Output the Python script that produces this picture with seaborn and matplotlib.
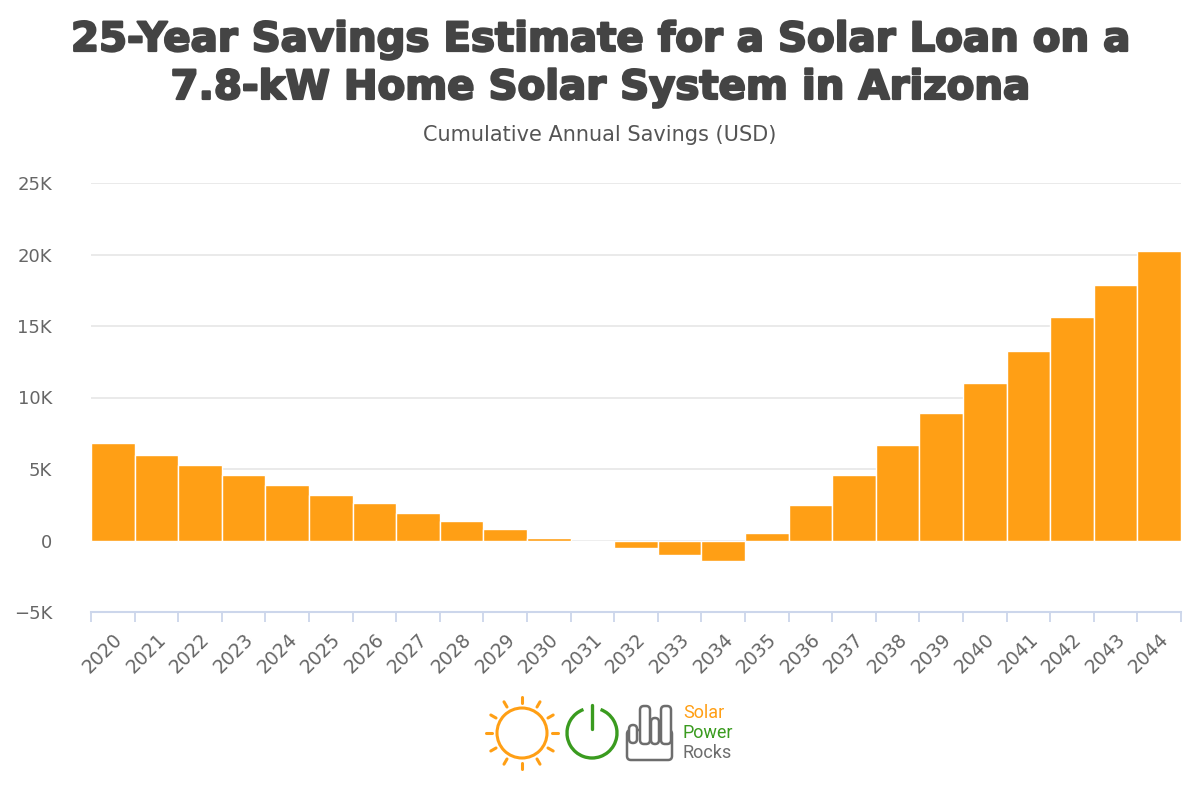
import matplotlib
matplotlib.use("Agg")
import matplotlib.pyplot as plt
import matplotlib.patheffects as pe
import seaborn as sns
import pandas as pd
import numpy as np
from matplotlib.patches import Circle, Arc, FancyBboxPatch
from matplotlib.lines import Line2D

years = [str(y) for y in range(2020, 2045)]
savings = [6790, 5950, 5250, 4550, 3850, 3150, 2590, 1890, 1330, 770, 180, -100,
           -540, -980, -1400, 510, 2470, 4570, 6650, 8890, 10990, 13230, 15630, 17850, 20250]
yticks = [-5000, 0, 5000, 10000, 15000, 20000, 25000]
ytick_labels = ["−5K", "0", "5K", "10K", "15K", "20K", "25K"]

title_lines = ["25-Year Savings Estimate for a Solar Loan on a",
               "7.8-kW Home Solar System in Arizona"]
subtitle = "Cumulative Annual Savings (USD)"
logo_words = ["Solar", "Power", "Rocks"]

sns.set_theme(style="white")
plt.rcParams['font.family'] = ['DejaVu Sans']

df = pd.DataFrame({"year": years, "savings": savings})

fig = plt.figure(figsize=(12, 8), dpi=100)
ax = fig.add_axes([91/1200, 1-612/800, (1181-91)/1200, (612-183)/800])

sns.barplot(data=df, x="year", y="savings", color="#FF9F15", width=1.0,
            edgecolor="white", linewidth=1, saturation=1, ax=ax, zorder=3)

ax.set_ylim(-5000, 25000)
ax.set_xlim(-0.5, len(years) - 0.5)
ax.set_yticks(yticks)
ax.set_yticklabels(ytick_labels, color="#666666", fontsize=13)
for y in yticks[1:]:
    ax.axhline(y, color="#e6e6e6", lw=1.2, zorder=1)
ax.set_xlabel("")
ax.set_ylabel("")
for s in ["top", "right", "left"]:
    ax.spines[s].set_visible(False)
ax.spines["bottom"].set_color("#ccd6eb")
ax.spines["bottom"].set_linewidth(1.5)
ax.tick_params(axis="y", length=0, pad=28)
ax.set_xticks(range(len(years)))
ax.set_xticklabels(years, rotation=45, ha="right", rotation_mode="anchor",
                   color="#666666", fontsize=13.5)
ax.tick_params(axis="x", which="major", length=0, pad=13, bottom=True)
ax.set_xticks(np.arange(-0.5, len(years), 1.0), minor=True)
ax.tick_params(axis="x", which="minor", length=7.5, width=1.3, color="#ccd6eb",
               bottom=True)

# Title and subtitle
stroke = [pe.withStroke(linewidth=1.6, foreground="#444444")]
fig.text(0.5, 1-40/800, title_lines[0], ha="center", va="center", fontsize=29,
         fontweight="bold", color="#444444", path_effects=stroke)
fig.text(0.5, 1-88/800, title_lines[1], ha="center", va="center", fontsize=29,
         fontweight="bold", color="#444444", path_effects=stroke)
fig.text(0.5, 1-135/800, subtitle, ha="center", va="center", fontsize=15,
         color="#555555")

# Logo (decorative)
lax = fig.add_axes([0, 0, 1, 1], zorder=5)
lax.set_xlim(0, 1200)
lax.set_ylim(800, 0)
lax.axis("off")
orange, green, gray = "#FF9F15", "#3a9b1f", "#6d6d6d"
cx, cy = 522, 733
lax.add_patch(Circle((cx, cy), 25, fill=False, ec=orange, lw=2.2))
for a in np.arange(0, 360, 30):
    r = np.deg2rad(a)
    lax.add_line(Line2D([cx + 30*np.cos(r), cx + 36*np.cos(r)],
                        [cy + 30*np.sin(r), cy + 36*np.sin(r)], color=orange, lw=2.2))
px, py = 592, 733
lax.add_patch(Arc((px, py), 50, 50, theta1=-70, theta2=250, ec=green, lw=2.4))
lax.add_line(Line2D([px, px], [py - 28, py - 4], color=green, lw=2.4))
for (x0, y0, w, h) in [(627, 730, 45, 30), (629, 725, 8, 18), (640, 706, 10, 38),
                       (651, 718, 8, 26), (661, 706, 10, 38)]:
    lax.add_patch(FancyBboxPatch((x0, y0), w, h, boxstyle="round,pad=0,rounding_size=4",
                                 fill=True, fc="white", ec=gray, lw=1.8))
for txt, col, yy in zip(logo_words, [orange, green, gray], [713, 733, 753]):
    lax.text(683, yy, txt, color=col, fontsize=13, va="center", ha="left",
             family=["Roboto", "DejaVu Sans"], fontweight="normal")

fig.savefig("out.png", dpi=100, facecolor="white")
